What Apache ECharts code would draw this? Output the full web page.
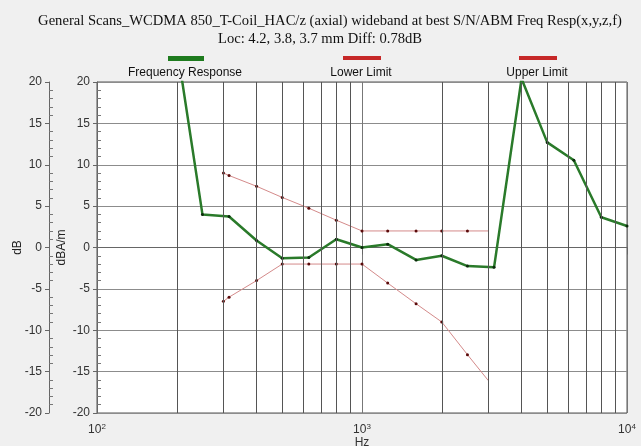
<!DOCTYPE html>
<html>
<head>
<meta charset="utf-8">
<script src="https://cdn.jsdelivr.net/npm/echarts@6/dist/echarts.min.js"></script>
<style>
  html, body { margin: 0; padding: 0; background: #f0f0f0; }
  #chart { width: 641px; height: 446px; }
</style>
</head>
<body>
<div id="chart"></div>
<script>
// measured frequency response (Hz / dB)
const respFreqs = [200, 250, 315, 400, 500, 630, 800, 1000, 1250, 1600, 2000, 2500, 3150, 4000, 5000, 6300, 8000, 10000]
const respValues = [24.4, 4.0, 3.75, 0.85, -1.3, -1.2, 1.0, 0.0, 0.4, -1.5, -1.0, -2.25, -2.4, 20.4, 12.7, 10.55, 3.65, 2.6]

// limit masks
const limitFreqs = [300, 315, 400, 500, 630, 800, 1000, 1250, 1600, 2000, 2500, 3000]
const upperValues = [9.0, 8.7, 7.4, 6.05, 4.75, 3.3, 2, 2, 2, 2, 2, 2]
const lowerValues = [-6.5, -6.0, -4.0, -2, -2, -2, -2, -4.3, -6.8, -9.0, -12.95, -16.1]

// minor vertical grid lines of the log axis
const gridFreqs = [200, 300, 400, 500, 600, 700, 800, 900, 2000, 3000, 4000, 5000, 6000, 7000, 8000, 9000]

const titleText = 'General Scans_WCDMA 850_T-Coil_HAC/z (axial) wideband at best S/N/ABM Freq Resp(x,y,z,f)'
const subText = 'Loc: 4.2, 3.8, 3.7 mm Diff: 0.78dB'
const legendNames = ['Frequency Response', 'Lower Limit', 'Upper Limit']

const sans = '"Liberation Sans", Arial, sans-serif'
const serif = '"Liberation Serif", "Times New Roman", serif'
const lastFreq = limitFreqs[limitFreqs.length - 1]

function pairs (xs, ys) {
  return xs.map((x, i) => [x, ys[i]])
}

function label (x, y, text, font) {
  return {
    type: 'text', x: x, y: y,
    style: { text: text, font: font, fill: '#111', align: 'center', verticalAlign: 'middle', textAlign: 'center', textVerticalAlign: 'middle' }
  }
}

function valueAxis (extra) {
  return Object.assign({
    type: 'value',
    position: 'left',
    min: -20,
    max: 20,
    interval: 5,
    axisLine: { show: true, lineStyle: { color: '#666', width: 1 } },
    axisTick: { show: true, length: 4, lineStyle: { color: '#666' } },
    axisLabel: { show: true, color: '#333', fontSize: 12, fontFamily: sans, margin: 7 },
    splitLine: { show: false }
  }, extra)
}

function minorAxis (offset) {
  return valueAxis({
    offset: offset,
    axisLine: { show: false },
    axisTick: { show: false, inside: true },
    axisLabel: { show: false },
    minorTick: { show: true, splitNumber: 5, length: 4, lineStyle: { color: '#777' } }
  })
}

let chart = echarts.init(document.getElementById('chart'))
chart.setOption({
  animation: false,
  backgroundColor: '#f0f0f0',
  graphic: [
    label(330, 21, titleText, '14.6px ' + serif),
    label(320, 39, subText, '14.6px ' + serif),
    { type: 'rect', shape: { x: 168, y: 56, width: 36, height: 5 }, style: { fill: '#1e7b1e' } },
    { type: 'rect', shape: { x: 343, y: 56, width: 38, height: 4 }, style: { fill: '#c62828' } },
    { type: 'rect', shape: { x: 519, y: 56, width: 38, height: 4 }, style: { fill: '#c62828' } },
    label(185, 73, legendNames[0], '12px ' + sans),
    label(361, 73, legendNames[1], '12px ' + sans),
    label(537, 73, legendNames[2], '12px ' + sans)
  ],
  grid: {
    left: 97,
    right: 14,
    top: 82,
    bottom: 33,
    outerBoundsMode: 'none',
    show: true,
    backgroundColor: '#fff',
    borderColor: '#555',
    borderWidth: 1
  },
  xAxis: {
    type: 'log',
    logBase: 10,
    min: 100,
    max: 10000,
    name: 'Hz',
    nameLocation: 'middle',
    nameGap: 24,
    nameMoveOverlap: false,
    nameTextStyle: { color: '#333', fontSize: 12, fontFamily: sans },
    axisLine: { show: true, lineStyle: { color: '#666' } },
    axisTick: { show: true, length: 7, lineStyle: { color: '#666' } },
    axisLabel: {
      color: '#333',
      fontSize: 12,
      fontFamily: sans,
      margin: 10,
      formatter: v => '10{s|' + Math.round(Math.log10(v)) + '}',
      rich: { s: { fontSize: 8, fontFamily: sans, color: '#333', padding: [0, 0, 6, 0] } }
    },
    splitLine: { show: true, lineStyle: { color: '#777', width: 1 } }
  },
  yAxis: [
    valueAxis({
      name: 'dBA/m',
      nameLocation: 'middle',
      nameGap: 29,
      nameMoveOverlap: false,
      nameTextStyle: { color: '#222', fontSize: 12, fontFamily: sans },
      splitLine: { show: true, lineStyle: { color: '#8c8c8c', width: 1 } }
    }),
    valueAxis({
      offset: 48,
      name: 'dB',
      nameLocation: 'middle',
      nameGap: 25,
      nameMoveOverlap: false,
      nameTextStyle: { color: '#222', fontSize: 12, fontFamily: sans }
    }),
    minorAxis(0),
    minorAxis(48)
  ],
  series: [
    {
      name: 'grid',
      type: 'line',
      data: [],
      z: 1,
      silent: true,
      markLine: {
        silent: true,
        symbol: 'none',
        label: { show: false },
        lineStyle: { color: '#555', width: 1, type: 'solid' },
        data: gridFreqs.map(f => ({ xAxis: f }))
      }
    },
    {
      name: legendNames[2],
      type: 'line',
      z: 3,
      data: pairs(limitFreqs, upperValues),
      symbol: (v) => v[0] === lastFreq ? 'none' : 'circle',
      symbolSize: 3,
      itemStyle: { color: '#5a0a0a' },
      lineStyle: { color: '#d48a8a', width: 1 }
    },
    {
      name: legendNames[1],
      type: 'line',
      z: 3,
      data: pairs(limitFreqs, lowerValues),
      symbol: (v) => v[0] === lastFreq ? 'none' : 'circle',
      symbolSize: 3,
      itemStyle: { color: '#5a0a0a' },
      lineStyle: { color: '#d48a8a', width: 1 }
    },
    {
      name: legendNames[0],
      type: 'line',
      z: 4,
      data: pairs(respFreqs, respValues),
      symbol: 'circle',
      symbolSize: 3,
      itemStyle: { color: '#0c2a0c' },
      lineStyle: { color: '#2a7a2a', width: 2.5 }
    }
  ]
})
</script>
</body>
</html>
